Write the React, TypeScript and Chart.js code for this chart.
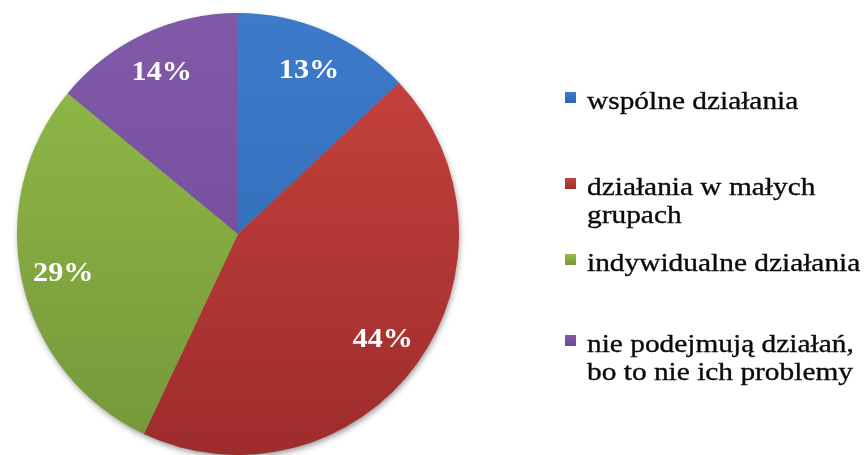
import React, { useEffect, useRef } from 'react';
import { Chart, registerables } from 'chart.js';

Chart.register(...registerables);

const categories = ['wspólne działania', 'działania w małych grupach', 'indywidualne działania', 'nie podejmują działań, bo to nie ich problemy'];
const legendLines = [['wspólne działania'], ['działania w małych', 'grupach'], ['indywidualne działania'], ['nie podejmują działań,', 'bo to nie ich problemy']];
const values = [13, 44, 29, 14];
const pctLabels = ['13%', '44%', '29%', '14%'];
const topColors = ['#3D7BCA', '#C9443F', '#93BC48', '#8159A9'];
const bottomColors = ['#2E66B0', '#9E2C2C', '#75973A', '#6C4896'];

const FONT_FAMILY = '"Liberation Serif", "Times New Roman", serif';

const shadowPlugin = {
  id: 'pieShadow',
  beforeDatasetsDraw(chart: any) {
    const arc = chart.getDatasetMeta(0).data[0];
    if (!arc) return;
    const { x, y, outerRadius } = arc.getProps(['x', 'y', 'outerRadius'], true);
    const ctx = chart.ctx;
    ctx.save();
    ctx.shadowColor = 'rgba(0,0,0,0.45)';
    ctx.shadowBlur = 6;
    ctx.shadowOffsetX = 1;
    ctx.shadowOffsetY = 3;
    ctx.beginPath();
    ctx.arc(x, y, outerRadius - 1, 0, Math.PI * 2);
    ctx.fillStyle = '#888';
    ctx.fill();
    ctx.restore();
  },
};

const labelPlugin = {
  id: 'pctLabels',
  afterDatasetsDraw(chart: any) {
    const ctx = chart.ctx;
    const meta = chart.getDatasetMeta(0);
    meta.data.forEach((arc: any, i: number) => {
      const { x, y, startAngle, endAngle, outerRadius } = arc.getProps(['x', 'y', 'startAngle', 'endAngle', 'outerRadius'], true);
      const mid = (startAngle + endAngle) / 2;
      const r = outerRadius * 0.81;
      const px = x + Math.cos(mid) * r;
      const py = y + Math.sin(mid) * r;
      ctx.save();
      ctx.translate(px, py + 1);
      ctx.scale(1.08, 1);
      ctx.font = 'bold 28px ' + FONT_FAMILY;
      ctx.fillStyle = '#FFFFFF';
      ctx.textAlign = 'center';
      ctx.textBaseline = 'middle';
      ctx.fillText(pctLabels[i], 0, 0);
      ctx.restore();
    });
  },
};

const legendPlugin = {
  id: 'sideLegend',
  afterDraw(chart: any) {
    const ctx = chart.ctx;
    const baselines = [109, 195, 271, 352];
    const lineGap = 28;
    const boxX = 565;
    const textX = 587;
    legendLines.forEach((lines, i) => {
      const b = baselines[i];
      const g = ctx.createLinearGradient(0, b - 17, 0, b - 6);
      g.addColorStop(0, topColors[i]);
      g.addColorStop(1, bottomColors[i]);
      ctx.fillStyle = g;
      ctx.fillRect(boxX, b - 17, 11, 11);
      lines.forEach((line, j) => {
        ctx.save();
        ctx.translate(textX, b + j * lineGap);
        ctx.scale(1.13, 1);
        ctx.font = '26px ' + FONT_FAMILY;
        ctx.fillStyle = '#0A0A0A';
        ctx.strokeStyle = '#0A0A0A';
        ctx.lineWidth = 0.35;
        ctx.textAlign = 'left';
        ctx.textBaseline = 'alphabetic';
        ctx.fillText(line, 0, 0);
        ctx.strokeText(line, 0, 0);
        ctx.restore();
      });
    });
  },
};

export default function App() {
  const ref = useRef<HTMLCanvasElement>(null);
  useEffect(() => {
    let chart: any = null;
    let cancelled = false;
    const build = () => {
      if (cancelled || !ref.current) return;
      chart = new Chart(ref.current, {
        type: 'pie',
        data: {
          labels: categories,
          datasets: [
            {
              data: values,
              borderWidth: 0,
              backgroundColor: (c: any) => {
                const area = c.chart.chartArea;
                if (!area) return topColors[c.dataIndex];
                const g = c.chart.ctx.createLinearGradient(0, area.top, 0, area.bottom);
                g.addColorStop(0, topColors[c.dataIndex]);
                g.addColorStop(1, bottomColors[c.dataIndex]);
                return g;
              },
            },
          ],
        },
        options: {
          responsive: false,
          animation: false,
          layout: { padding: { left: 16, right: 408, top: 13, bottom: -2 } },
          plugins: {
            legend: { display: false },
            tooltip: { enabled: false },
          },
        },
        plugins: [shadowPlugin, labelPlugin, legendPlugin],
      });
    };
    const fonts: any = (document as any).fonts;
    if (fonts && fonts.load) {
      Promise.all([
        fonts.load('26px "Liberation Serif"', 'ąłńó'),
        fonts.load('bold 28px "Liberation Serif"', '0123456789%'),
      ]).then(build, build);
    } else {
      build();
    }
    return () => {
      cancelled = true;
      if (chart) chart.destroy();
    };
  }, []);
  return (
    <div style={{ position: 'absolute', left: 0, top: 0, width: 868, height: 455, overflow: 'hidden', background: '#fff' }}>
      <canvas ref={ref} width={868} height={455} style={{ display: 'block' }} />
    </div>
  );
}
